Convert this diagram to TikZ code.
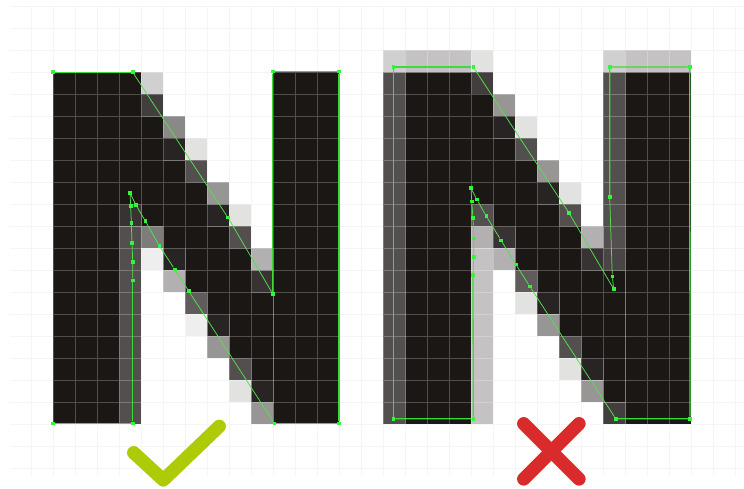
\documentclass[tikz,border=0pt]{standalone}
\usepackage{tikz}
\usepackage{xcolor}
\definecolor{ink}{HTML}{1A1715}
\definecolor{shadeA}{HTML}{282423}
\definecolor{shadeB}{HTML}{383333}
\definecolor{shadeC}{HTML}{433E3E}
\definecolor{shadeD}{HTML}{4A4545}
\definecolor{shadeE}{HTML}{544F4F}
\definecolor{shadeF}{HTML}{605C5C}
\definecolor{shadeG}{HTML}{7E7B7B}
\definecolor{shadeH}{HTML}{8A8988}
\definecolor{shadeI}{HTML}{979695}
\definecolor{shadeJ}{HTML}{B2B0B0}
\definecolor{shadeK}{HTML}{C4C2C2}
\definecolor{shadeL}{HTML}{D0D0D0}
\definecolor{shadeM}{HTML}{E2E2E1}
\definecolor{shadeN}{HTML}{EEEEEE}
\definecolor{gridc}{HTML}{F5F5F6}
\definecolor{outlinec}{HTML}{55E050}
\definecolor{edgec}{HTML}{3CDC38}
\definecolor{handlec}{HTML}{32F53C}
\definecolor{good}{HTML}{AFCB08}
\definecolor{bad}{HTML}{D92B2B}
\tikzset{
  gridline/.style={draw=gridc,line width=0.7pt},
  pixel/.style={draw=white,draw opacity=0.24,line width=0.7pt},
  outline/.style={draw=outlinec,line width=0.75pt},
  edgeline/.style={draw=edgec,line width=1.3pt},
  handle/.style={fill=handlec,inner sep=0pt,minimum size=3.6pt,rectangle},
  verdict/.style={line width=13.3pt,line cap=round,line join=round}
}
\newcommand{\pixels}[2]{\foreach \cola/\colb/\rowi in {#2}{\foreach \coli in {\cola,...,\colb}{\draw[pixel,fill=#1] (\coli,\rowi) rectangle +(1,1);}}}
\begin{document}
\begin{tikzpicture}[x=1pt,y=-1pt]
  \useasboundingbox (0,0) rectangle (744,489);
  \foreach \i in {0,...,21} \draw[gridline] (10,6.3+22*\i) -- (744,6.3+22*\i);
  \foreach \i in {0,...,32} \draw[gridline] (31.3+22*\i,6) -- (31.3+22*\i,476);
  \begin{scope}[shift={(53.3,72.3)},x=22pt,y=-22pt]
    \foreach \n in {0,...,15} {\pixels{ink}{0/2/\n,10/12/\n,16/18/\n,26/28/\n}}
    \pixels{ink}{3/3/0,3/3/1,3/4/2,3/4/3,3/5/4,3/6/5,4/6/6,5/7/7,6/8/8,6/8/9,7/9/10,8/9/11,8/9/12,9/9/13}
    \foreach \n in {7,...,15} {\pixels{shadeE}{3/3/\n}}
    \pixels{shadeB}{3/3/6,9/9/9}
    \pixels{shadeL}{4/4/0}
    \pixels{shadeC}{4/4/1}
    \pixels{shadeH}{5/5/2}
    \pixels{shadeA}{5/5/3,7/7/6,5/5/8,7/7/11,9/9/14}
    \pixels{shadeM}{6/6/3,8/8/6,8/8/14}
    \pixels{shadeE}{6/6/4,8/8/7,8/8/13}
    \pixels{shadeI}{7/7/5,7/7/12,9/9/15}
    \pixels{shadeG}{4/4/7}
    \pixels{shadeN}{4/4/8,6/6/11}
    \pixels{shadeJ}{9/9/8,5/5/9}
    \pixels{shadeF}{6/6/10}
    \foreach \n in {0,...,15} {\pixels{shadeE}{15/15/\n}}
    \foreach \n in {0,...,7} {\pixels{shadeE}{25/25/\n}}
    \foreach \n in {8,...,15} {\pixels{shadeK}{19/19/\n}}
    \pixels{shadeL}{15/15/-1,25/25/-1}
    \pixels{shadeK}{16/18/-1,26/28/-1}
    \pixels{shadeM}{19/19/-1,21/21/2,23/23/5,21/21/10,23/23/13}
    \pixels{shadeC}{19/19/0,25/25/15}
    \pixels{ink}{19/19/1,19/19/2,19/20/3,19/21/4,19/21/5,20/22/6,21/23/7,21/23/8,22/25/9,23/25/10,23/25/11,24/25/12,25/25/13,25/25/14}
    \pixels{shadeI}{20/20/1,22/22/4,22/22/11,24/24/14}
    \pixels{shadeA}{20/20/2,22/22/5,22/22/10,24/24/13}
    \pixels{shadeE}{21/21/3,19/19/6,23/23/6,23/23/12}
    \pixels{shadeJ}{19/19/7,24/24/7,20/20/8}
    \pixels{shadeB}{20/20/7,24/24/8}
    \pixels{shadeD}{25/25/8}
    \pixels{shadeF}{21/21/9}
  \end{scope}
  \foreach \n/\x/\y in {a/52.7/72.3,b/132.7/72.3,c/228/217.7,d/272.7/293.7,e/272.7/71.7,f/339/71.7,
      g/339/423.3,h/274.3/423.3,i/188.7/291,j/174.7/269.3,k/159.3/245.7,l/145.3/221,m/136/205,n/130/193,
      o/130.7/206,p/131.3/223,q/132/243,r/132.7/261.7,s/132.7/280.3,t/132.7/423.3,u/52.7/423.3}
    \node[handle] (left\n) at (\x,\y) {};
  \foreach \n/\x/\y in {a/393.3/67,b/473.3/67,c/569/213,d/613.7/289,e/612.3/276.3,f/609.7/197,g/609.7/67,
      h/689.7/67,i/690/418.7,j/615.7/418.7,k/529.7/286.3,l/515.7/264.3,m/501/240.3,n/486.3/216.3,
      o/477/199.7,p/471/188.3,q/471.7/201.7,r/473/218.3,s/473.7/238.3,t/473.7/257,u/473/275,v/473.3/418.7,w/393.3/418.7}
    \node[handle] (right\n) at (\x,\y) {};
  \draw[outline] (leftb)--(leftc)--(leftd);
  \draw[outline] (lefth)--(lefti)--(leftj)--(leftk)--(leftl)--(leftm)--(leftn)--(lefto)--(leftp)--(leftq)--(leftr)--(lefts);
  \draw[edgeline] (lefta)--(leftb);
  \draw[edgeline] (leftd)--(lefte)--(leftf)--(leftg)--(lefth);
  \draw[edgeline] (lefts)--(leftt)--(leftu);
  \draw[outline] (rightb)--(rightc)--(rightd)--(righte)--(rightf);
  \draw[outline] (rightj)--(rightk)--(rightl)--(rightm)--(rightn)--(righto)--(rightp)--(rightq)--(rightr)--(rights)--(rightt)--(rightu);
  \draw[edgeline] (rightw)--(righta)--(rightb);
  \draw[edgeline] (rightf)--(rightg)--(righth)--(righti)--(rightj);
  \draw[edgeline] (rightu)--(rightv)--(rightw);
  \draw[verdict,draw=good] (133.7,452.7) -- (163.3,480) -- (219.3,426.3);
  \draw[verdict,draw=bad] (523.7,423.7) -- (579,479);
  \draw[verdict,draw=bad] (579,423.7) -- (523.7,479);
\end{tikzpicture}
\end{document}
